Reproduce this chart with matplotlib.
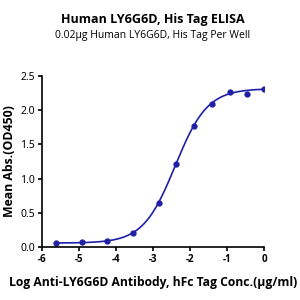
import numpy as np
import matplotlib
matplotlib.use("Agg")
import matplotlib.pyplot as plt

log_conc = [-5.62, -4.93, -4.24, -3.54, -2.85, -2.37, -1.90, -1.41, -0.93, -0.46, 0.0]
od450 = [0.06, 0.07, 0.09, 0.21, 0.64, 1.21, 1.76, 2.09, 2.26, 2.23, 2.30]
# 4PL fit parameters: bottom, top, logEC50, hill
fit_params = [0.06, 2.31, -2.40, 1.0]
x_ticks = [-6, -5, -4, -3, -2, -1, 0]
y_ticks = [0.0, 0.5, 1.0, 1.5, 2.0, 2.5]
y_tick_labels = ["0.0", "0.5", "1.0", "1.5", "2.0", "2.5"]

color = "#1f1fa8"
plt.rcParams['font.family'] = ['Open Sans', 'DejaVu Sans']

fig = plt.figure(figsize=(3, 3), dpi=100)
ax = fig.add_axes([0.14, 0.176, 0.74, 0.572])

b, t, ec, h = fit_params
xs = np.linspace(min(log_conc), max(log_conc), 300)
ys = b + (t - b) / (1 + 10 ** ((ec - xs) * h))
ax.plot(xs, ys, color=color, lw=1.2)
ax.plot(log_conc, od450, 'o', color=color, ms=3.5)

ax.set_xlim(-6, 0)
ax.set_ylim(0, 2.5)
ax.set_xticks(x_ticks, labels=[str(v) for v in x_ticks], fontsize=7, fontweight='bold')
ax.set_yticks(y_ticks, labels=y_tick_labels, fontsize=7.5, fontweight='bold',
              family=['Noto Sans', 'DejaVu Sans'])
for s in ['top', 'right']:
    ax.spines[s].set_visible(False)
for s in ['left', 'bottom']:
    ax.spines[s].set_linewidth(1.2)
ax.tick_params(width=1.2, length=3, pad=2)
ax.set_ylabel("Mean Abs.(OD450)", fontsize=8.8, fontweight='bold', labelpad=3)
ax.set_xlabel("Log Anti-LY6G6D Antibody, hFc Tag Conc.(µg/ml)", fontsize=8.7, fontweight='bold')
ax.xaxis.set_label_coords(0.5, -0.165)

fig.text(0.51, 0.935, "Human LY6G6D, His Tag ELISA", ha='center', va='center', fontsize=9, fontweight='bold')
fig.text(0.51, 0.882, "0.02µg Human LY6G6D, His Tag Per Well", ha='center', va='center', fontsize=7.5)

fig.savefig("out.png", dpi=100)
